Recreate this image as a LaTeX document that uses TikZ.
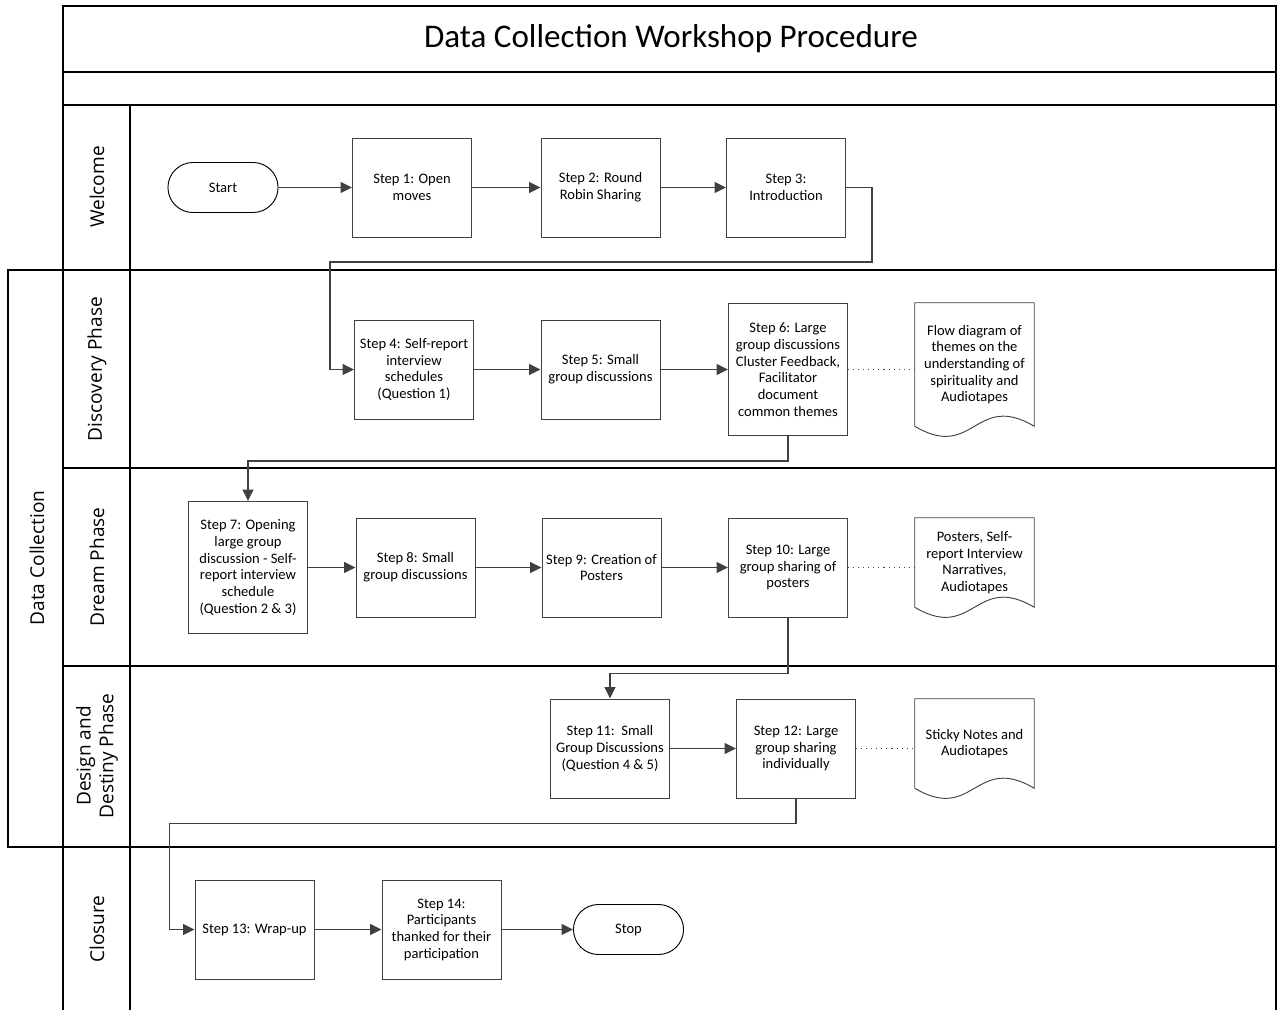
\documentclass[tikz,border=0pt]{standalone}
\usepackage{fontspec}
\setmainfont{Carlito}
\newfontfamily\lanefont{Open Sans}
\usepackage{tikz}
\usetikzlibrary{calc,positioning,arrows.meta,shapes.misc}
\definecolor{linegray}{HTML}{404040}
\tikzset{
    step box/.style={
        draw=linegray,line width=0.7pt,
        minimum width=89.25pt,minimum height=74.25pt,
        align=center,inner sep=2pt,
        font=\fontsize{10.9}{12.5}\selectfont
    },
    terminal/.style={
        rounded rectangle,draw=black,line width=0.7pt,
        minimum width=89.25pt,minimum height=37.5pt,
        font=\fontsize{10.9}{12.5}\selectfont
    },
    doc/.style={
        minimum width=89.25pt,minimum height=66.75pt,
        align=center,inner sep=2pt,
        font=\fontsize{10.9}{12.5}\selectfont
    },
    lane/.style={rotate=90,align=center,font=\lanefont\fontsize{14.3}{17}\selectfont},
    >={Triangle[length=8.5pt,width=8pt]},
    flow/.style={->,draw=linegray,line width=1.3pt},
}
\tikzstyle{frame} = [black,line width=1.2pt]
\tikzstyle{link}  = [draw=linegray,line width=0.8pt,dash pattern=on 0.8pt off 3pt]
\newcommand\docoutline[1]{%
    \draw[draw=linegray,line width=0.7pt] (#1.south west) -- (#1.north west) -- (#1.north east) -- (#1.south east)
        .. controls ($(#1.south east)+(-59,-35)$) and ($(#1.south west)+(59,35)$) .. (#1.south west);}

\begin{document}
\begin{tikzpicture}[x=0.75pt,y=-0.75pt]
    \useasboundingbox (0,0) rectangle (1279,1010);
    \draw[frame] (63,1010) |- (1276,6) -- (1276,1010);
    \foreach \y in {72,105,270,468,666,847}
    \draw[frame] (63,\y) -- (1276,\y);
    \draw[frame] (130,105) -- (130,1010);
    \draw[black,line width=0.9pt] (63,270) -| (8,847) -- (63,847);

    \node[font=\fontsize{24.8}{29}\selectfont] (title) at (671,39) {Data Collection Workshop Procedure};

    \node[lane] (welcome) at (97,187) {Welcome};
    \node[lane] (discovery) at (97,369) {Discovery Phase};
    \node[lane] (dream) at (97,567) {Dream Phase};
    \node[lane] (design) at (97,756) {Design and\\Destiny Phase};
    \node[lane] (closure) at (97,929) {Closure};
    \node[lane] (datacoll) at (37,558) {Data Collection};

    \node[terminal] (start) at (223,187.5) {Start};
    \node[step box] (s1) at (412,187.5) {Step 1: Open\\moves};
    \node[step box] (s2) at (600.5,187.5) {Step 2: Round\\Robin Sharing};
    \node[step box] (s3) at (786,187.5) {Step 3:\\Introduction};

    \node[step box] (s4) at (414,369.5) {Step 4: Self-report\\interview\\schedules\\(Question 1)};
    \node[step box] (s5) at (600.5,369.5) {Step 5: Small\\group discussions};
    \node[step box,minimum height=99pt] (s6) at (788,369.5) {Step 6: Large\\group discussions\\Cluster Feedback,\\Facilitator\\document\\common themes};
    \node[doc,minimum height=92.25pt] (d1) at (974.5,364.5) {Flow diagram of\\themes on the\\understanding of\\spirituality and\\Audiotapes};
    \docoutline{d1}

    \node[step box,minimum height=99pt] (s7) at (248,567.5) {Step 7: Opening\\large group\\discussion - Self-\\report interview\\schedule\\(Question 2 \& 3)};
    \node[step box] (s8) at (415.5,567.5) {Step 8: Small\\group discussions};
    \node[step box] (s9) at (601.5,567.5) {Step 9: Creation of\\Posters};
    \node[step box] (s10) at (788,567.5) {Step 10: Large\\group sharing of\\posters};
    \node[doc] (d2) at (974.5,562.5) {Posters, Self-\\report Interview\\Narratives,\\Audiotapes};
    \docoutline{d2}

    \node[step box] (s11) at (610,748.5) {Step 11:\ \ Small\\Group Discussions\\(Question 4 \& 5)};
    \node[step box] (s12) at (796,748.5) {Step 12: Large\\group sharing\\individually};
    \node[doc] (d3) at (974.5,743.5) {Sticky Notes and\\Audiotapes};
    \docoutline{d3}

    \node[step box] (s13) at (254.5,929.5) {Step 13: Wrap-up};
    \node[step box] (s14) at (441.5,929.5) {Step 14:\\Participants\\thanked for their\\participation};
    \node[terminal] (stop) at (628.5,929.5) {Stop};

    \draw[flow] (start.east) -- (s1.west);
    \draw[flow] (s1.east) -- (s2.west);
    \draw[flow] (s2.east) -- (s3.west);
    \draw[flow] (s3.east) -- ++(26,0) -- ++(0,74.5) -| ($(s4.west)+(-24,0)$) -- (s4.west);
    \draw[flow] (s4.east) -- (s5.west);
    \draw[flow] (s5.east) -- (s6.west);
    \draw[link] (s6.east) -- (s6.east -| d1.west);
    \draw[flow] (s6.south) -- ++(0,25) -| (s7.north);
    \draw[flow] (s7.east) -- (s8.west);
    \draw[flow] (s8.east) -- (s9.west);
    \draw[flow] (s9.east) -- (s10.west);
    \draw[link] (s10.east) -- (s10.east -| d2.west);
    \draw[flow] (s10.south) -- ++(0,56) -| (s11.north);
    \draw[flow] (s11.east) -- (s12.west);
    \draw[link] (s12.east) -- (s12.east -| d3.west);
    \draw[flow] (s12.south) -- ++(0,25) -| ($(s13.west)+(-25,0)$) -- (s13.west);
    \draw[flow] (s13.east) -- (s14.west);
    \draw[flow] (s14.east) -- (stop.west);
\end{tikzpicture}
\end{document}
